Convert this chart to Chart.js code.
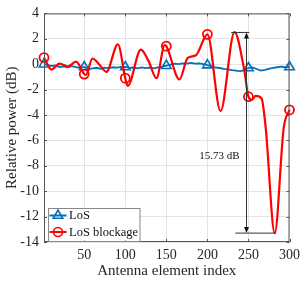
<!DOCTYPE html>
<html>
<head>
<meta charset="utf-8">
<script src="https://cdn.jsdelivr.net/npm/chart.js@4.4.0/dist/chart.umd.min.js"></script>
<style>
  html, body { margin: 0; padding: 0; background: #fff; }
  #wrap { width: 305px; height: 282px; }
</style>
</head>
<body>
<div id="wrap"><canvas id="c" width="305" height="282"></canvas></div>
<script>
// LoS (blue), sampled every 5 elements
const losX = [1, 5, 10, 15, 20, 25, 30, 35, 40, 45, 50, 55, 60, 65, 70, 75, 80, 85, 90, 95,
  100, 105, 110, 115, 120, 125, 130, 135, 140, 145, 150, 155, 160, 165, 170, 175, 180, 185, 190, 195,
  200, 205, 210, 215, 220, 225, 230, 235, 240, 245, 250, 255, 260, 265, 270, 275, 280, 285, 290, 295, 300];
const losY = [0.0, -0.06, -0.14, -0.1, -0.22, -0.17, -0.24, -0.16, -0.23, -0.3, -0.22, -0.4, -0.33, -0.28, -0.36, -0.27, -0.31, -0.24, -0.27, -0.21,
  -0.22, -0.29, -0.26, -0.33, -0.25, -0.31, -0.26, -0.32, -0.25, -0.2, -0.12, -0.03, 0.04, 0.0, 0.07, 0.04, 0.1, 0.05, 0.07, 0.0,
  -0.07, -0.17, -0.26, -0.3, -0.37, -0.4, -0.46, -0.5, -0.56, -0.44, -0.3, -0.26, -0.38, -0.5, -0.44, -0.36, -0.29, -0.24, -0.19, -0.24, -0.22];

// LoS blockage (red), extrema of the curve
const blockX = [1, 10, 20, 30, 40, 50, 52, 60, 68, 77, 91, 100, 103, 119, 128, 138, 148, 150, 166, 176, 186, 200,
  216, 233, 245, 250, 254, 259, 266, 271, 282, 293, 300];
const blockY = [0.52, -0.42, 0.05, -0.18, 0.2, -0.78, -0.85, 0.45, 0.0, -0.6, 1.57, -1.1, -1.7, 1.15, 0.3, -1.1, 1.5, 1.42, -1.2, 0.5, 0.7, 2.35,
  -3.7, 2.53, -0.5, -2.56, -2.8, -2.5, -2.7, -5.0, -13.3, -5.0, -3.6];

const markerX = [1, 50, 100, 150, 200, 250, 300];
const xTicks = [50, 100, 150, 200, 250, 300];
const yTicks = [4, 2, 0, -2, -4, -6, -8, -10, -12, -14];

// dynamic range annotation
const gapTop = 2.5;
const gapBottom = -13.3;
const gapX = 246.5;
const gapText = '15.73 dB';

const BLUE = '#0072BD';
const RED = '#FF0000';
const SERIF = "'Liberation Serif', 'Times New Roman', serif";

const pts = (xs, ys) => xs.map((x, i) => ({ x: x, y: ys[i] }));

function marker(ctx, style, x, y, r) {
  ctx.beginPath();
  if (style === 'triangle') {
    for (let k = 0; k < 3; k++) {
      const a = -Math.PI / 2 + k * 2 * Math.PI / 3;
      const px = x + Math.cos(a) * r, py = y + Math.sin(a) * r;
      k ? ctx.lineTo(px, py) : ctx.moveTo(px, py);
    }
    ctx.closePath();
  } else {
    ctx.arc(x, y, r, 0, Math.PI * 2);
  }
  ctx.stroke();
}

const extras = {
  id: 'extras',
  afterDatasetsDraw(chart) {
    const { ctx, chartArea: a, scales: { x, y } } = chart;
    ctx.save();

    // box + inward ticks
    ctx.strokeStyle = '#555';
    ctx.lineWidth = 1;
    ctx.strokeRect(a.left + 0.5, a.top + 0.5, a.width - 1, a.height - 1);
    ctx.beginPath();
    xTicks.forEach(v => {
      const px = Math.round(x.getPixelForValue(v)) + 0.5;
      ctx.moveTo(px, a.bottom); ctx.lineTo(px, a.bottom - 3);
      ctx.moveTo(px, a.top); ctx.lineTo(px, a.top + 3);
    });
    yTicks.forEach(v => {
      const py = Math.round(y.getPixelForValue(v)) + 0.5;
      ctx.moveTo(a.left, py); ctx.lineTo(a.left + 3, py);
      ctx.moveTo(a.right, py); ctx.lineTo(a.right - 3, py);
    });
    ctx.stroke();

    // annotation arrow
    const ax = Math.round(x.getPixelForValue(gapX)) + 0.5;
    const t = y.getPixelForValue(gapTop);
    const b = y.getPixelForValue(gapBottom);
    ctx.strokeStyle = '#333';
    ctx.fillStyle = '#111';
    ctx.lineWidth = 1;
    ctx.beginPath();
    ctx.moveTo(x.getPixelForValue(229), t); ctx.lineTo(x.getPixelForValue(251), t);
    ctx.moveTo(x.getPixelForValue(234), b); ctx.lineTo(x.getPixelForValue(283), b);
    ctx.moveTo(ax, t + 4); ctx.lineTo(ax, b - 4);
    ctx.stroke();
    ctx.beginPath();
    ctx.moveTo(ax, t); ctx.lineTo(ax - 2.5, t + 6); ctx.lineTo(ax + 2.5, t + 6); ctx.closePath();
    ctx.moveTo(ax, b); ctx.lineTo(ax - 2.5, b - 6); ctx.lineTo(ax + 2.5, b - 6); ctx.closePath();
    ctx.fill();

    ctx.font = '11px ' + SERIF;
    ctx.fillStyle = '#111';
    ctx.textAlign = 'right';
    ctx.textBaseline = 'middle';
    ctx.fillText(gapText, ax - 7, y.getPixelForValue(-7.2));

    // legend
    const lx = a.left + 3.5, lw = 91.5, lh = 33, ly = a.bottom - 1.5 - lh;
    ctx.fillStyle = '#fff';
    ctx.fillRect(lx, ly, lw, lh);
    ctx.strokeStyle = '#888';
    ctx.lineWidth = 1;
    ctx.strokeRect(Math.round(lx) + 0.5, Math.round(ly) + 0.5, lw, lh);
    const items = [
      { text: 'LoS', color: BLUE, style: 'triangle', r: 5.5 },
      { text: 'LoS blockage', color: RED, style: 'circle', r: 4.5 }
    ];
    ctx.font = '12.5px ' + SERIF;
    ctx.textAlign = 'left';
    items.forEach((it, i) => {
      const yy = ly + 8 + i * 16.5;
      ctx.strokeStyle = it.color;
      ctx.lineWidth = 2;
      ctx.beginPath();
      ctx.moveTo(lx + 2, yy); ctx.lineTo(lx + 19, yy);
      ctx.stroke();
      ctx.lineWidth = 1.6;
      marker(ctx, it.style, lx + 10.5, yy, it.r);
      ctx.fillStyle = '#111';
      ctx.fillText(it.text, lx + 21.5, yy + 0.5);
    });
    ctx.restore();
  }
};

new Chart(document.getElementById('c'), {
  type: 'line',
  data: {
    datasets: [
      {
        label: 'LoS',
        data: pts(losX, losY),
        borderColor: BLUE,
        borderWidth: 1.8,
        backgroundColor: 'rgba(0,0,0,0)',
        tension: 0,
        pointStyle: 'triangle',
        pointRadius: ctx => markerX.includes(ctx.raw && ctx.raw.x) ? 5.5 : 0,
        pointBorderWidth: 1.6,
        pointBorderColor: BLUE,
        pointBackgroundColor: 'rgba(0,0,0,0)',
        order: 2,
        clip: false
      },
      {
        label: 'LoS blockage',
        data: pts(blockX, blockY),
        borderColor: RED,
        borderWidth: 2.2,
        backgroundColor: 'rgba(0,0,0,0)',
        cubicInterpolationMode: 'monotone',
        pointStyle: 'circle',
        pointRadius: ctx => markerX.includes(ctx.raw && ctx.raw.x) ? 4.5 : 0,
        pointBorderWidth: 1.8,
        pointBorderColor: RED,
        pointBackgroundColor: 'rgba(0,0,0,0)',
        order: 1,
        clip: false
      }
    ]
  },
  options: {
    responsive: false,
    animation: false,
    devicePixelRatio: 1,
    layout: { padding: { left: 0, right: 13, top: 11, bottom: 0 } },
    plugins: { legend: { display: false }, tooltip: { enabled: false } },
    scales: {
      x: {
        type: 'linear',
        min: 1,
        max: 300,
        afterBuildTicks: s => { s.ticks = xTicks.map(v => ({ value: v })); },
        afterFit: s => { s.height = 40; },
        grid: { color: '#e4e4e4', drawTicks: false },
        border: { display: false },
        ticks: { color: '#262626', font: { family: SERIF, size: 14 }, padding: 5, maxRotation: 0 },
        title: { display: true, text: 'Antenna element index', color: '#262626',
          font: { family: SERIF, size: 15 }, padding: { top: 0, bottom: 2 } }
      },
      y: {
        min: -14,
        max: 4,
        afterBuildTicks: s => { s.ticks = yTicks.map(v => ({ value: v })); },
        afterFit: s => { s.width = 44; },
        grid: { color: '#e4e4e4', drawTicks: false },
        border: { display: false },
        ticks: { color: '#262626', font: { family: SERIF, size: 14 }, padding: 5 },
        title: { display: true, text: 'Relative power (dB)', color: '#262626',
          font: { family: SERIF, size: 15 }, padding: { top: 3, bottom: 0 } }
      }
    }
  },
  plugins: [extras]
});
</script>
</body>
</html>
